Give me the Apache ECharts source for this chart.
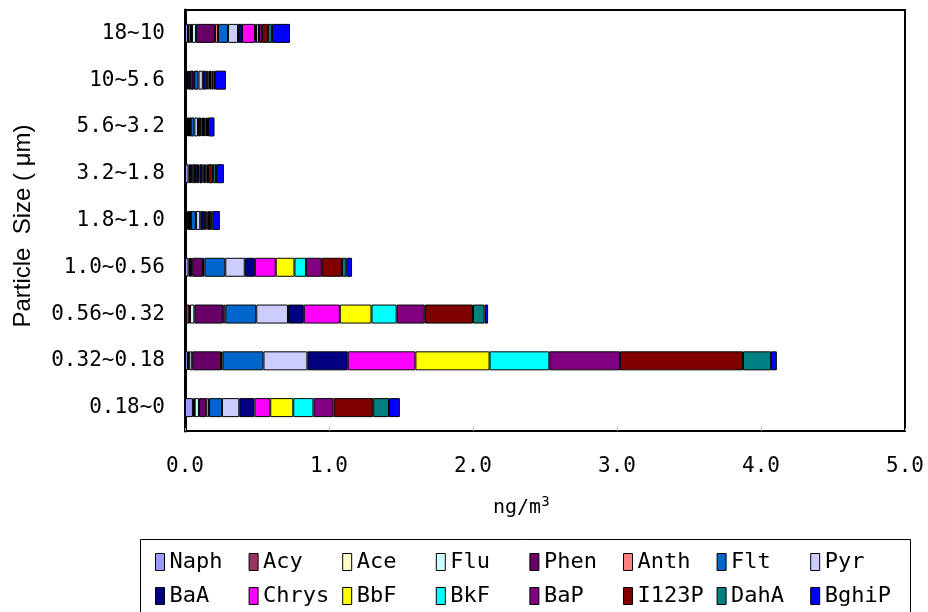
<!DOCTYPE html>
<html>
<head>
<meta charset="utf-8">
<script src="https://cdn.jsdelivr.net/npm/echarts@6/dist/echarts.min.js"></script>
<style>
  html, body { margin: 0; padding: 0; background: #fff; }
  #chart { width: 928px; height: 612px; }
</style>
</head>
<body>
<div id="chart"></div>
<script>
// Particle size ranges (bottom to top)
const categories = ['0.18~0', '0.32~0.18', '0.56~0.32', '1.0~0.56', '1.8~1.0', '3.2~1.8', '5.6~3.2', '10~5.6', '18~10'];

// PAH concentrations (ng/m3) per size range
const naph  = [0.055, 0.020, 0.005, 0.025, 0.003, 0.025, 0.014, 0.014, 0.021];
const acy   = [0.007, 0.005, 0.025, 0.010, 0.010, 0.010, 0.007, 0.010, 0.021];
const ace   = [0.005, 0.005, 0.005, 0.005, 0.005, 0.005, 0.003, 0.005, 0.007];
const flu   = [0.030, 0.020, 0.030, 0.010, 0.010, 0.010, 0.005, 0.005, 0.027];
const phen  = [0.050, 0.200, 0.200, 0.075, 0.010, 0.020, 0.008, 0.025, 0.132];
const anth  = [0.020, 0.010, 0.015, 0.010, 0.003, 0.005, 0.003, 0.005, 0.021];
const flt   = [0.090, 0.285, 0.215, 0.145, 0.035, 0.015, 0.025, 0.030, 0.070];
const pyr   = [0.120, 0.305, 0.220, 0.135, 0.030, 0.010, 0.025, 0.030, 0.069];
const baa   = [0.105, 0.280, 0.110, 0.070, 0.025, 0.020, 0.015, 0.020, 0.028];
const chrys = [0.110, 0.470, 0.250, 0.145, 0.010, 0.010, 0.010, 0.010, 0.090];
const bbf   = [0.160, 0.515, 0.220, 0.130, 0.008, 0.010, 0.010, 0.010, 0.007];
const bkf   = [0.140, 0.415, 0.175, 0.080, 0.008, 0.010, 0.008, 0.010, 0.021];
const bap   = [0.140, 0.490, 0.195, 0.110, 0.010, 0.010, 0.010, 0.010, 0.021];
const i123p = [0.275, 0.855, 0.335, 0.140, 0.015, 0.035, 0.010, 0.015, 0.041];
const daha  = [0.110, 0.195, 0.080, 0.030, 0.010, 0.020, 0.007, 0.010, 0.028];
const bghip = [0.075, 0.040, 0.025, 0.040, 0.050, 0.055, 0.045, 0.075, 0.125];

const seriesNames = ['Naph', 'Acy', 'Ace', 'Flu', 'Phen', 'Anth', 'Flt', 'Pyr',
                     'BaA', 'Chrys', 'BbF', 'BkF', 'BaP', 'I123P', 'DahA', 'BghiP'];
const seriesData = [naph, acy, ace, flu, phen, anth, flt, pyr,
                    baa, chrys, bbf, bkf, bap, i123p, daha, bghip];
const seriesColors = ['#9999FF', '#993366', '#FFFFCC', '#CCFFFF', '#660066', '#FF8080', '#0066CC', '#CCCCFF',
                      '#000080', '#FF00FF', '#FFFF00', '#00FFFF', '#800080', '#800000', '#008080', '#0000FF'];

// X axis tick values
const xTicks = [0, 1, 2, 3, 4, 5];

const mono = 'DejaVu Sans Mono';

// One legend per entry, laid out on a fixed 8-column grid
const legendCols = 8;
const legendColWidth = 93.6;
const legendRowTops = [551, 585];
const legends = seriesNames.map((name, i) => ({
  left: 155 + (i % legendCols) * legendColWidth,
  top: legendRowTops[Math.floor(i / legendCols)],
  orient: 'horizontal',
  padding: 0,
  itemWidth: 9,
  itemHeight: 17,
  icon: 'rect',
  itemStyle: { borderColor: '#000', borderWidth: 1 },
  textStyle: { fontFamily: mono, fontSize: 22, color: '#000' },
  selectedMode: false,
  data: [name]
}));

const chart = echarts.init(document.getElementById('chart'), null, { renderer: 'canvas' });

chart.setOption({
  animation: false,
  backgroundColor: '#fff',
  color: seriesColors,
  grid: {
    left: 185, right: 23, top: 10, bottom: 181,
    show: true, borderColor: '#000', borderWidth: 2, backgroundColor: '#fff'
  },
  xAxis: {
    type: 'value',
    min: xTicks[0],
    max: xTicks[xTicks.length - 1],
    interval: 1,
    splitLine: { show: false },
    axisLine: { show: true, lineStyle: { color: '#000', width: 2 } },
    axisTick: { show: true, inside: true, length: 3, lineStyle: { color: '#aaa' } },
    axisLabel: {
      fontFamily: mono, fontSize: 21, color: '#000', margin: 25,
      formatter: v => v.toFixed(1)
    }
  },
  yAxis: {
    type: 'category',
    data: categories,
    axisLine: { show: true, lineStyle: { color: '#000', width: 3 } },
    axisTick: { show: false },
    axisLabel: { fontFamily: mono, fontSize: 21, color: '#000', margin: 20 }
  },
  legend: legends,
  graphic: [
    {
      type: 'rect',
      shape: { x: 140.5, y: 539.5, width: 770, height: 90 },
      style: { fill: 'none', stroke: '#000', lineWidth: 1 },
      z: 0
    },
    {
      type: 'text',
      x: 493, y: 521,
      style: {
        text: '{a|ng/m}{s|3}',
        textVerticalAlign: 'bottom',
        rich: {
          a: { fontFamily: mono, fontSize: 20, fill: '#000' },
          s: { fontFamily: mono, fontSize: 14, fill: '#000', verticalAlign: 'top', padding: [0, 0, 12, 0] }
        }
      }
    },
    {
      type: 'text',
      x: 23, y: 226,
      rotation: Math.PI / 2,
      style: {
        text: 'Particle  Size ( \u03bcm)',
        fontFamily: 'Liberation Sans',
        fontSize: 24,
        fill: '#000',
        textAlign: 'center',
        textVerticalAlign: 'middle'
      }
    }
  ],
  series: seriesNames.map((name, i) => ({
    name: name,
    type: 'bar',
    stack: 'total',
    barWidth: 19,
    data: seriesData[i],
    itemStyle: { color: seriesColors[i], borderColor: '#000', borderWidth: 1 }
  }))
});
</script>
</body>
</html>
